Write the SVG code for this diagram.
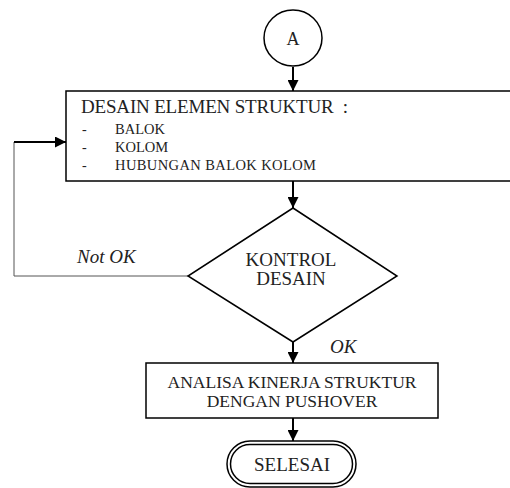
<svg xmlns="http://www.w3.org/2000/svg" width="510" height="488" viewBox="0 0 510 488">
<defs>
<style>
.shape{fill:#fff;stroke:#000;stroke-width:1.5}
.t{font-family:"Liberation Serif","Times New Roman",serif;fill:#222}
.c{text-anchor:middle}
.conn{fill:none;stroke:#000;stroke-width:2}
.thin{fill:none;stroke:#555;stroke-width:1}
</style>
<marker id="ah" viewBox="0 0 10 10" refX="10" refY="5" markerWidth="5.5" markerHeight="5.5" orient="auto" markerUnits="strokeWidth">
<path d="M0,0 L10,5 L0,10 z" fill="#000"/>
</marker>
</defs>
<rect width="510" height="488" fill="#fff"/>
<g id="connectors">
<line class="conn" x1="293" y1="67" x2="293" y2="91" marker-end="url(#ah)"/>
<line class="conn" x1="293" y1="181" x2="293" y2="208" marker-end="url(#ah)"/>
<line class="conn" x1="293" y1="342" x2="293" y2="363" marker-end="url(#ah)"/>
<line class="conn" x1="293" y1="418" x2="293" y2="441" marker-end="url(#ah)"/>
<path class="thin" d="M188,276 H14 V142"/>
<line class="conn" x1="14" y1="142" x2="66" y2="142" marker-end="url(#ah)"/>
<text class="t" x="77" y="263" font-size="19" font-style="italic">Not OK</text>
<text class="t" x="330" y="353" font-size="19" font-style="italic">OK</text>
</g>
<g id="start-A">
<ellipse class="shape" cx="293" cy="38" rx="29" ry="28"/>
<text class="t c" x="293" y="45" font-size="18">A</text>
</g>
<g id="desain">
<rect class="shape" x="66" y="91" width="450" height="90"/>
<text class="t" x="81" y="113" font-size="19" textLength="267">DESAIN ELEMEN STRUKTUR&#160; :</text>
<text class="t" x="82" y="134" font-size="14">-</text>
<text class="t" x="115" y="134" font-size="14.5">BALOK</text>
<text class="t" x="82" y="152" font-size="14">-</text>
<text class="t" x="115" y="152" font-size="14.5">KOLOM</text>
<text class="t" x="82" y="170" font-size="14">-</text>
<text class="t" x="115" y="170" font-size="14.5" textLength="201">HUBUNGAN BALOK KOLOM</text>
</g>
<g id="kontrol">
<polygon class="shape" points="293,208 397,276 293,342 188,276"/>
<text class="t c" x="291" y="266" font-size="19">KONTROL</text>
<text class="t c" x="291" y="285" font-size="19">DESAIN</text>
</g>
<g id="analisa">
<rect class="shape" x="146" y="363" width="292" height="55"/>
<text class="t c" x="292" y="388" font-size="17.5">ANALISA KINERJA STRUKTUR</text>
<text class="t c" x="292" y="407" font-size="17.5">DENGAN PUSHOVER</text>
</g>
<g id="selesai">
<rect class="shape" x="227" y="441" width="129" height="46" rx="23"/>
<rect class="shape" x="230.5" y="444.5" width="122" height="39" rx="19.5"/>
<text class="t c" x="292" y="471" font-size="19">SELESAI</text>
</g>
</svg>
